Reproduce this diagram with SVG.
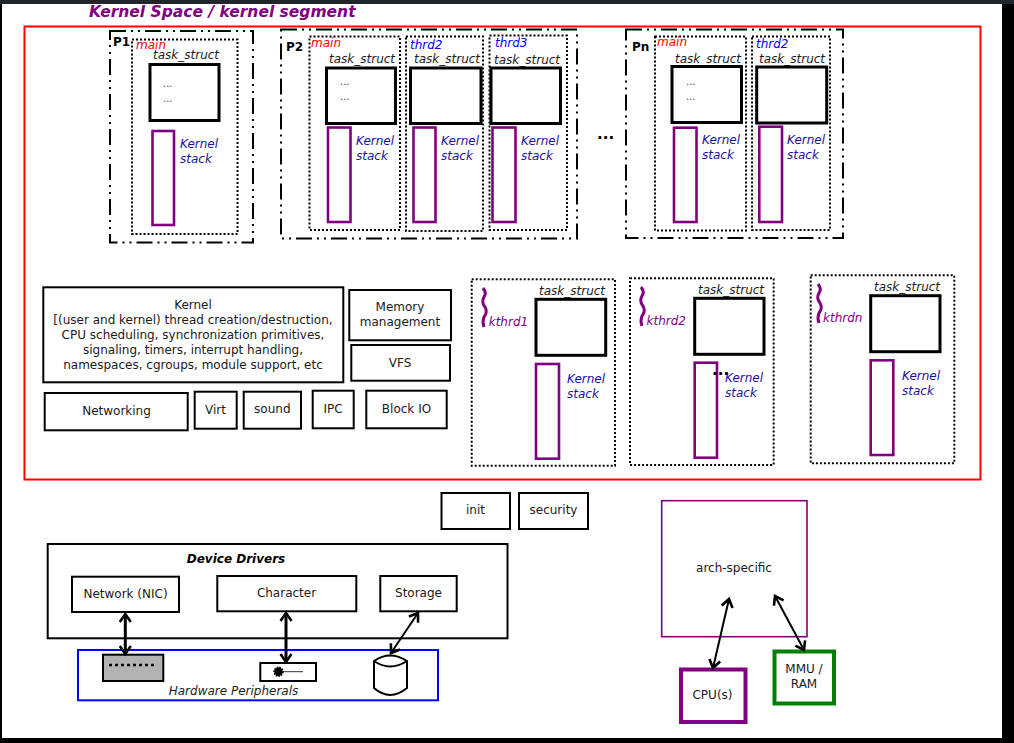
<svg xmlns="http://www.w3.org/2000/svg" width="1014" height="743" viewBox="0 0 1014 743">
<style>
text{font-family:"DejaVu Sans",sans-serif;font-size:12px;fill:#1a1a1a}
.c{text-anchor:middle}
.i{font-style:italic}
.r,.th,.ts,.st,.b{fill:#fff}
.pr{fill:none;stroke:#000;stroke-width:2;stroke-dasharray:16 5 2 5 2 5}
.th{stroke:#000;stroke-width:2;stroke-dasharray:2 2}
.ts{stroke:#000;stroke-width:3}
.st{stroke:#800080;stroke-width:2.6}
.b{stroke:#000;stroke-width:2}
.ks{fill:#1a0f9f}
.sq{fill:none;stroke:#800080;stroke-width:3}
.ar{fill:none;stroke:#000;marker-start:url(#o);marker-end:url(#o)}
.d{font-size:10px;fill:#444}
.bd{font-weight:bold;fill:#000}
</style>
<defs>
<marker id="o" viewBox="-11 -8 14 16" markerUnits="userSpaceOnUse" markerWidth="14" markerHeight="16" refX="0" refY="0" orient="auto-start-reverse"><path d="M-8,-5.5 L0,0 L-8,5.5" fill="none" stroke="#000" stroke-width="2.6"/></marker>
<path id="sq" class="sq" d="M0,0 Q4,5 1,9 Q-2,14 2,19 Q5,24 1,29 Q-1,34 1,39"/>
</defs>
<rect width="1014" height="743" fill="#000"/>
<rect width="1014" height="4" fill="#22262b"/>
<rect x="2" y="4" width="1000" height="734" fill="#fff"/>
<text id="title" x="89" y="17" class="i" style="font-weight:bold;font-size:15.5px;fill:#800080">Kernel Space / kernel segment</text>
<rect id="kernel-space" x="24.5" y="26.5" width="956" height="453" fill="none" stroke="#f00" stroke-width="2"/>

<g id="p1">
<rect class="pr" x="110" y="31" width="143" height="211.5"/>
<text class="bd" x="113" y="46">P1</text>
<rect class="th" x="132" y="39.5" width="105.5" height="194.5"/>
<text class="i" x="136" y="49" style="fill:#f00">main</text>
<text class="i" x="153" y="59">task_struct</text>
<rect class="ts" x="150" y="64.5" width="69" height="56"/>
<text class="d" x="163" y="87">...</text><text class="d" x="163" y="102">...</text>
<rect class="st" x="152.5" y="131" width="21.5" height="94"/>
<text class="i ks" x="180" y="148">Kernel</text><text class="i ks" x="180" y="163">stack</text>
</g>

<g id="p2">
<rect class="pr" x="281" y="29.5" width="296" height="209"/>
<text class="bd" x="286" y="51">P2</text>
<rect class="th" x="309.5" y="36.5" width="90.5" height="193.5"/>
<text class="i" x="311" y="47" style="fill:#f00">main</text>
<text class="i" x="329" y="63">task_struct</text>
<rect class="ts" x="326.5" y="68" width="69" height="55.5"/>
<text class="d" x="340" y="85">...</text><text class="d" x="340" y="100">...</text>
<rect class="st" x="328" y="127.5" width="22.5" height="94.5"/>
<text class="i ks" x="356" y="145">Kernel</text><text class="i ks" x="356" y="160">stack</text>
<rect class="th" x="406" y="36.5" width="77" height="194.5"/>
<text class="i" x="410" y="49" style="fill:#00f">thrd2</text>
<text class="i" x="414" y="63">task_struct</text>
<rect class="ts" x="410.5" y="68" width="70.5" height="55.5"/>
<rect class="st" x="413.5" y="127.5" width="22" height="94.5"/>
<text class="i ks" x="441" y="145">Kernel</text><text class="i ks" x="441" y="160">stack</text>
<rect class="th" x="489.5" y="35.5" width="77.5" height="194.5"/>
<text class="i" x="495" y="47" style="fill:#00f">thrd3</text>
<text class="i" x="494" y="64">task_struct</text>
<rect class="ts" x="491" y="68" width="69.5" height="55.5"/>
<rect class="st" x="492.5" y="127.5" width="23" height="94.5"/>
<text class="i ks" x="521" y="145">Kernel</text><text class="i ks" x="521" y="160">stack</text>
</g>

<text id="ellipsis-1" x="597" y="139" class="bd" style="font-size:15px">...</text>

<g id="pn">
<rect class="pr" x="626" y="29.5" width="217" height="208.5"/>
<text class="bd" x="632" y="51">Pn</text>
<rect class="th" x="655" y="36.5" width="91" height="194"/>
<text class="i" x="657" y="46" style="fill:#f00">main</text>
<text class="i" x="675" y="63">task_struct</text>
<rect class="ts" x="672" y="66.5" width="69.5" height="56"/>
<text class="d" x="686" y="85">...</text><text class="d" x="686" y="100">...</text>
<rect class="st" x="674" y="127.7" width="22.5" height="94.3"/>
<text class="i ks" x="702" y="144">Kernel</text><text class="i ks" x="702" y="159">stack</text>
<rect class="th" x="752" y="36.5" width="78" height="193.5"/>
<text class="i" x="756" y="48" style="fill:#00f">thrd2</text>
<text class="i" x="759" y="63">task_struct</text>
<rect class="ts" x="756.7" y="67" width="70" height="56"/>
<rect class="st" x="759.3" y="126.7" width="22.7" height="95.3"/>
<text class="i ks" x="787" y="144">Kernel</text><text class="i ks" x="787" y="159">stack</text>
</g>

<g id="kthrd1">
<rect class="th" x="471.7" y="279.3" width="143.3" height="186.4"/>
<use href="#sq" x="483" y="288"/>
<text class="i" x="488.7" y="325.5" style="fill:#800080">kthrd1</text>
<text class="i" x="539" y="294.5">task_struct</text>
<rect class="ts" x="536" y="299.3" width="69.7" height="56"/>
<rect class="st" x="536" y="364" width="23" height="94.7"/>
<text class="i ks" x="567" y="382.5">Kernel</text><text class="i ks" x="567" y="397.5">stack</text>
</g>

<g id="kthrd2">
<rect class="th" x="630" y="278.3" width="143.7" height="186.7"/>
<use href="#sq" x="641" y="287"/>
<text class="i" x="646.5" y="325" style="fill:#800080">kthrd2</text>
<text class="i" x="698" y="293.5">task_struct</text>
<rect class="ts" x="694.7" y="298.3" width="69.3" height="56"/>
<rect class="st" x="694.7" y="362.7" width="22.3" height="95"/>
<text class="i ks" x="725" y="381.5">Kernel</text><text class="i ks" x="725" y="396.5">stack</text>
<text x="712" y="375" class="bd" style="font-size:15px">...</text>
</g>

<g id="kthrdn">
<rect class="th" x="810.7" y="275.3" width="143.6" height="188"/>
<use href="#sq" x="818" y="284"/>
<text class="i" x="823" y="322" style="fill:#800080">kthrdn</text>
<text class="i" x="874" y="291">task_struct</text>
<rect class="ts" x="870.7" y="295.7" width="69.3" height="56"/>
<rect class="st" x="870.7" y="360.3" width="22.6" height="94.7"/>
<text class="i ks" x="902" y="379.5">Kernel</text><text class="i ks" x="902" y="394.5">stack</text>
</g>

<g id="kernel">
<rect class="b" x="43.3" y="287.3" width="300" height="95"/>
<text class="c" x="193" y="309">Kernel</text>
<text class="c" x="193" y="324">[(user and kernel) thread creation/destruction,</text>
<text class="c" x="193" y="339">CPU scheduling, synchronization primitives,</text>
<text class="c" x="193" y="354">signaling, timers, interrupt handling,</text>
<text class="c" x="193" y="369">namespaces, cgroups, module support, etc</text>
</g>
<g id="memory"><rect class="b" x="349.3" y="290" width="101.7" height="50.3"/><text class="c" x="400" y="311">Memory</text><text class="c" x="400" y="326">management</text></g>
<g id="vfs"><rect class="b" x="351.3" y="345" width="98.7" height="35.7"/><text class="c" x="400" y="367">VFS</text></g>
<g id="networking"><rect class="b" x="44.7" y="393" width="143" height="37.3"/><text class="c" x="116.5" y="415">Networking</text></g>
<g id="virt"><rect class="b" x="194.7" y="391.7" width="42" height="37"/><text class="c" x="215.5" y="414">Virt</text></g>
<g id="sound"><rect class="b" x="243.7" y="391.7" width="57.3" height="37"/><text class="c" x="272.3" y="413">sound</text></g>
<g id="ipc"><rect class="b" x="312.7" y="390.7" width="41" height="37.6"/><text class="c" x="333" y="413">IPC</text></g>
<g id="block-io"><rect class="b" x="366.3" y="390.7" width="80.4" height="37.6"/><text class="c" x="406.5" y="413">Block IO</text></g>
<g id="init"><rect class="b" x="441.5" y="493" width="68.5" height="36"/><text class="c" x="475.5" y="514">init</text></g>
<g id="security"><rect class="b" x="519" y="493" width="69" height="36"/><text class="c" x="553.5" y="514">security</text></g>

<g id="device-drivers">
<rect class="b" x="47.7" y="544" width="459.8" height="94.3"/>
<text class="c i" x="236" y="563" style="font-weight:bold;fill:#000">Device Drivers</text>
</g>
<g id="nic"><rect class="b" x="72" y="576.7" width="107" height="35.3"/><text class="c" x="125.5" y="598">Network (NIC)</text></g>
<g id="character"><rect class="b" x="217.3" y="576" width="139" height="35.3"/><text class="c" x="286.5" y="597">Character</text></g>
<g id="storage"><rect class="b" x="380.3" y="576" width="76.4" height="35.3"/><text class="c" x="418.5" y="597">Storage</text></g>

<g id="hardware">
<rect x="78" y="650" width="360" height="50.3" fill="#fff" stroke="#00f" stroke-width="2"/>
<text class="c i" x="233.5" y="695">Hardware Peripherals</text>
<rect x="103" y="654.7" width="60.3" height="26.3" fill="#b3b3b3" stroke="#000" stroke-width="2"/>
<path d="M109,665 H155" stroke="#000" stroke-width="2.4" stroke-dasharray="3 3" fill="none"/>
<rect x="260.3" y="663" width="55.7" height="18" fill="#fff" stroke="#000" stroke-width="2"/>
<circle cx="278.5" cy="671.7" r="4.2" fill="#000" stroke="#000" stroke-width="2" stroke-dasharray="1.5 1"/>
<path d="M282,671.7 H303" stroke="#333" stroke-width="1" fill="none"/>
<path d="M374,661 Q390,650 407,661 V688 Q390,702 374,688 Z M374,661 Q390,672 407,661" fill="#fff" stroke="#000" stroke-width="2"/>
</g>

<g id="arch-specific"><rect x="661.7" y="500.7" width="145.3" height="136" fill="#fff" stroke="#800080" stroke-width="1.6"/><text class="c" x="734" y="572">arch-specific</text></g>
<g id="cpu"><rect x="681" y="669.5" width="64.5" height="52.5" fill="#fff" stroke="#800080" stroke-width="4"/><text class="c" x="712.5" y="699">CPU(s)</text></g>
<g id="mmu"><rect x="774.5" y="651.5" width="59.5" height="52" fill="#fff" stroke="#008000" stroke-width="4"/><text class="c" x="804" y="673">MMU /</text><text class="c" x="804" y="688">RAM</text></g>

<g id="connectors">
<path class="ar" stroke-width="3" d="M125.3,614 V654"/>
<path class="ar" stroke-width="3" d="M286,613 V662"/>
<path class="ar" stroke-width="2" d="M418,613 L391,653"/>
<path class="ar" stroke-width="2" d="M729,599 L713,668"/>
<path class="ar" stroke-width="2" d="M775,596 L804,650"/>
</g>
</svg>
